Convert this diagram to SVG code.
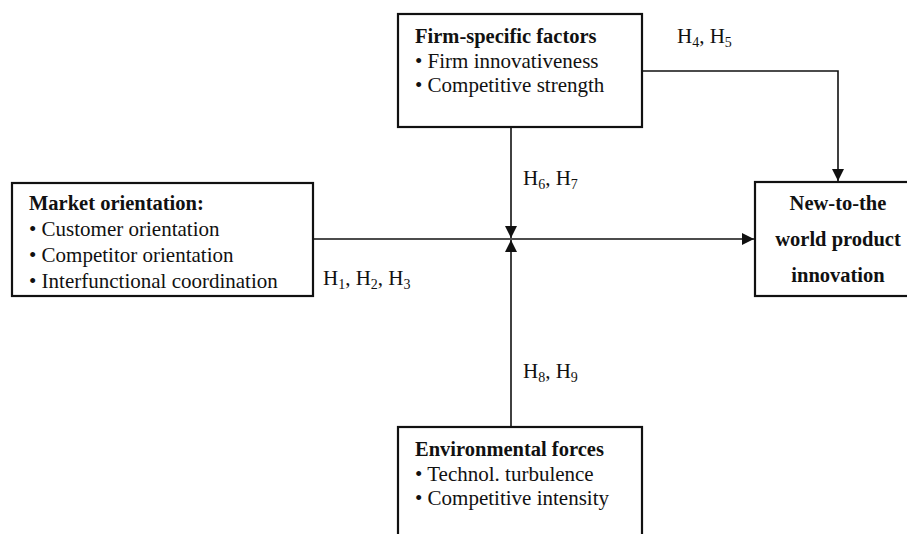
<svg xmlns="http://www.w3.org/2000/svg" width="907" height="534" viewBox="0 0 907 534">
<style>
  text { font-family: "Liberation Serif", "Times New Roman", serif; font-size: 21px; fill: #111; }
  .b { font-weight: bold; font-size: 20.5px; }
  .box { fill: #fff; stroke: #111; stroke-width: 2.2; }
  .ln { fill: none; stroke: #111; stroke-width: 1.6; }
  .sub { font-size: 14px; }
</style>
<defs>
  <marker id="arr" viewBox="0 0 12 12" refX="12" refY="6" markerWidth="12" markerHeight="12" markerUnits="userSpaceOnUse" orient="auto">
    <path d="M0,0 L12,6 L0,12 Z" fill="#111"/>
  </marker>
</defs>
<rect width="907" height="534" fill="#fff"/>
<g id="connectors">
  <path class="ln" d="M642,71 H838 V181" marker-end="url(#arr)"/>
  <path class="ln" d="M511,128 V238" marker-end="url(#arr)"/>
  <path class="ln" d="M511,427 V240" marker-end="url(#arr)"/>
  <path class="ln" d="M313,239 H754" marker-end="url(#arr)"/>
</g>
<g id="firm">
  <rect class="box" x="398" y="14" width="244" height="113"/>
  <text class="b" x="415" y="43">Firm-specific factors</text>
  <text x="415" y="68">• Firm innovativeness</text>
  <text x="415" y="92">• Competitive strength</text>
</g>
<g id="market">
  <rect class="box" x="12" y="183" width="301" height="113"/>
  <text class="b" x="29" y="210">Market orientation:</text>
  <text x="29" y="236">• Customer orientation</text>
  <text x="29" y="262">• Competitor orientation</text>
  <text x="29" y="288">• Interfunctional coordination</text>
</g>
<g id="innovation">
  <rect class="box" x="755" y="182" width="170" height="114"/>
  <text class="b" x="838" y="210" text-anchor="middle">New-to-the</text>
  <text class="b" x="838" y="246" text-anchor="middle">world product</text>
  <text class="b" x="838" y="282" text-anchor="middle">innovation</text>
</g>
<g id="environment">
  <rect class="box" x="398" y="427" width="244" height="120"/>
  <text class="b" x="415" y="456">Environmental forces</text>
  <text x="415" y="481">• Technol. turbulence</text>
  <text x="415" y="505">• Competitive intensity</text>
</g>
<g id="labels">
  <text x="677" y="43">H<tspan class="sub" dy="4">4</tspan><tspan dy="-4">, H</tspan><tspan class="sub" dy="4">5</tspan></text>
  <text x="523" y="185">H<tspan class="sub" dy="4">6</tspan><tspan dy="-4">, H</tspan><tspan class="sub" dy="4">7</tspan></text>
  <text x="323" y="285">H<tspan class="sub" dy="4">1</tspan><tspan dy="-4">, H</tspan><tspan class="sub" dy="4">2</tspan><tspan dy="-4">, H</tspan><tspan class="sub" dy="4">3</tspan></text>
  <text x="523" y="378">H<tspan class="sub" dy="4">8</tspan><tspan dy="-4">, H</tspan><tspan class="sub" dy="4">9</tspan></text>
</g>
</svg>
